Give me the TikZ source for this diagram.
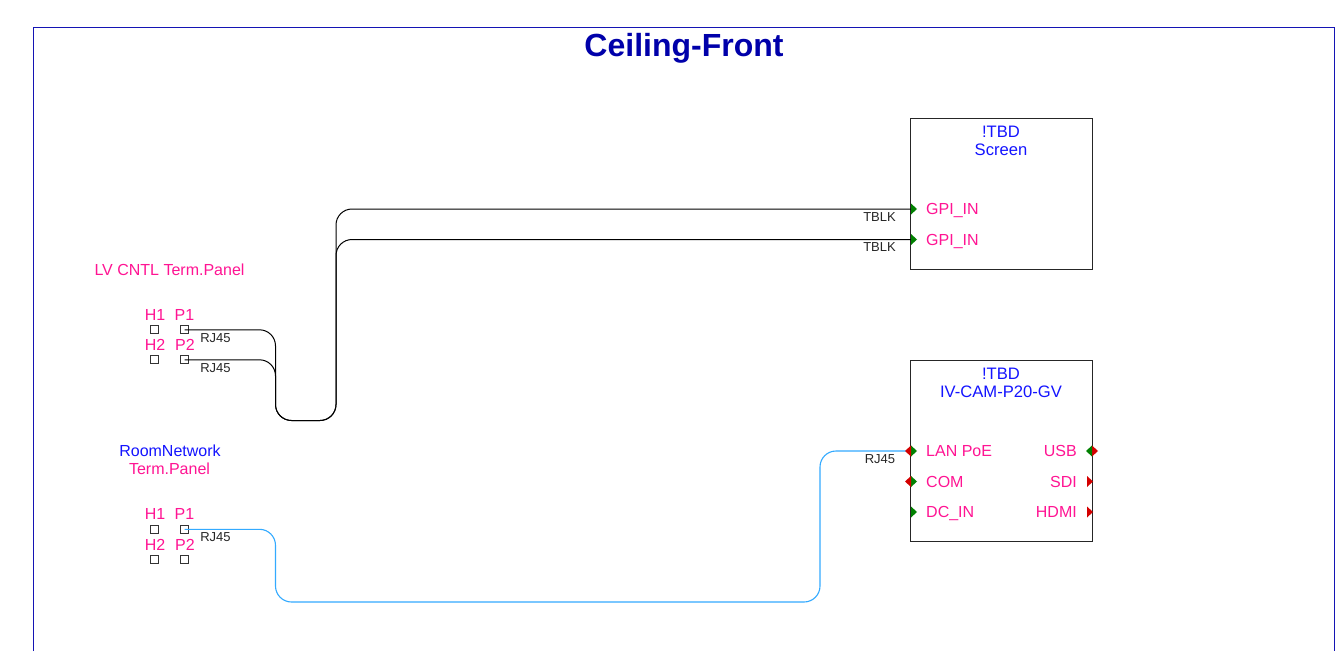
\documentclass[tikz,border=0pt]{standalone}
\usepackage{fontspec}
\setmainfont{Liberation Sans}
\definecolor{pinktxt}{HTML}{FF1493}
\definecolor{bluetxt}{HTML}{1414FF}
\definecolor{titlecol}{HTML}{0000AA}
\definecolor{framecol}{HTML}{1414B4}
\definecolor{cyanwire}{HTML}{33AAFF}
\definecolor{portgreen}{HTML}{008000}
\definecolor{portred}{HTML}{D40000}
\tikzset{
  lab/.style={inner sep=0pt,anchor=base,font=\fontsize{16}{16}\selectfont},
  pinklab/.style={lab,text=pinktxt},
  leftlab/.style={pinklab,anchor=base west},
  rightlab/.style={pinklab,anchor=base east},
  bluelab/.style={lab,text=bluetxt},
  devtitle/.style={bluelab,font=\fontsize{16.6}{16.6}\selectfont},
  cable/.style={inner sep=0pt,anchor=base,text=black!85,font=\fontsize{13}{13}\selectfont},
  sq/.style={draw=black!80,fill=white,line width=0.9pt,outer sep=0pt,minimum size=7.8pt,inner sep=0pt},
  devbox/.style={draw=black!85,line width=1pt,inner sep=0pt,outer sep=0pt,anchor=north west},
  wire/.style={rounded corners=16pt,line width=1pt,draw=black},
  netwire/.style={wire,line width=1.1pt,draw=cyanwire},
  ingreen/.pic={\fill[portgreen] (0,-5.5) -- (6,0) -- (0,5.5) -- cycle;},
  inred/.pic={\fill[portred] (0,-5.5) -- (6,0) -- (0,5.5) -- cycle;},
  outred/.pic={\fill[portred] (0,-5.5) -- (-6,0) -- (0,5.5) -- cycle;},
  outgreen/.pic={\fill[portgreen] (0,-5.5) -- (-6,0) -- (0,5.5) -- cycle;},
}
\begin{document}
\begin{tikzpicture}[x=1pt,y=-1pt]
\useasboundingbox (0,0) rectangle (1336,651);
\fill[white] (0,0) rectangle (1336,651);
% frame, open below the picture's edge
\draw[framecol,line width=1pt] (33.5,651) -- (33.5,27.5) -- (1334.5,27.5) -- (1334.5,651);
\node[inner sep=0pt,anchor=base,text=titlecol,font=\bfseries\fontsize{32}{32}\selectfont] (title) at (684,56) {Ceiling-Front};

% device boxes
\node[devbox,minimum width=181.5pt,minimum height=151pt] (screen) at (910.5,118.5) {};
\node[devbox,minimum width=181.5pt,minimum height=181pt] (cam) at (910.5,360.5) {};

\node[devtitle] (t1) at (1001,137) {!TBD};
\node[devtitle] (t2) at (1001,155) {Screen};
\node[devtitle] (t3) at (1001,379) {!TBD};
\node[devtitle] (t4) at (1001,397) {IV-CAM-P20-GV};

% panel titles
\node[pinklab] (lvt) at (169.5,275) {LV CNTL Term.Panel};
\node[bluelab] (rnt) at (170,456) {RoomNetwork};
\node[pinklab] (rnt2) at (169.5,474) {Term.Panel};

% panel squares
\node[sq] (ah1) at (154.7,329.8) {};
\node[sq] (ap1) at (184.7,329.8) {};
\node[sq] (ah2) at (154.7,359.8) {};
\node[sq] (ap2) at (184.7,359.8) {};
\node[sq] (bh1) at (154.7,529.3) {};
\node[sq] (bp1) at (184.7,529.3) {};
\node[sq] (bh2) at (154.7,559.3) {};
\node[sq] (bp2) at (184.7,559.3) {};

\node[pinklab] (lah1) at (155,320) {H1};
\node[pinklab] (lap1) at (184.5,320) {P1};
\node[pinklab] (lah2) at (155,350) {H2};
\node[pinklab] (lap2) at (185,350) {P2};
\node[pinklab] (lbh1) at (155,519) {H1};
\node[pinklab] (lbp1) at (184.5,519) {P1};
\node[pinklab] (lbh2) at (155,550) {H2};
\node[pinklab] (lbp2) at (185,550) {P2};

% routing corners
\coordinate (c1) at (275.5,420.5);
\coordinate (c2) at (336,420.5);
\coordinate (c3) at (275.5,602);
\coordinate (c4) at (820,602);
\coordinate (gpi1) at (911,209);
\coordinate (gpi2) at (911,239.5);
\coordinate (lan) at (911,451);

% connectors
\draw[wire] (ap1.center) -| (c1) -- (c2) |- (gpi1);
\draw[wire] (ap2.center) -| (c1) -- (c2) |- (gpi2);
\draw[netwire] (bp1.center) -| (c3) -- (c4) |- (lan);

% ports
\path (gpi1) pic{ingreen};
\path (gpi2) pic{ingreen};
\path (lan) pic{ingreen} pic{outred};
\path (911,481.5) coordinate (com) pic{ingreen} pic{outred};
\path (911,512) coordinate (dcin) pic{ingreen};
\path (1092,451) coordinate (usb) pic{inred} pic{outgreen};
\path (1087,481.5) coordinate (sdi) pic{inred};
\path (1087,512) coordinate (hdmi) pic{inred};

\node[leftlab] (lgpi1) at (926,214) {GPI\_IN};
\node[leftlab] (lgpi2) at (926,245) {GPI\_IN};
\node[leftlab] (llan) at (926,456) {LAN PoE};
\node[leftlab] (lcom) at (926,487) {COM};
\node[leftlab] (ldc) at (926,517) {DC\_IN};
\node[rightlab] (lusb) at (1077,456) {USB};
\node[rightlab] (lsdi) at (1077,487) {SDI};
\node[rightlab] (lhdmi) at (1077,517) {HDMI};

% cable labels
\node[cable] (r1) at (215.5,342) {RJ45};
\node[cable] (r2) at (215.5,372) {RJ45};
\node[cable] (r3) at (215.5,541) {RJ45};
\node[cable] (tb1) at (879.5,221) {TBLK};
\node[cable] (tb2) at (879.5,251) {TBLK};
\node[cable] (r4) at (880,463) {RJ45};
\end{tikzpicture}
\end{document}
